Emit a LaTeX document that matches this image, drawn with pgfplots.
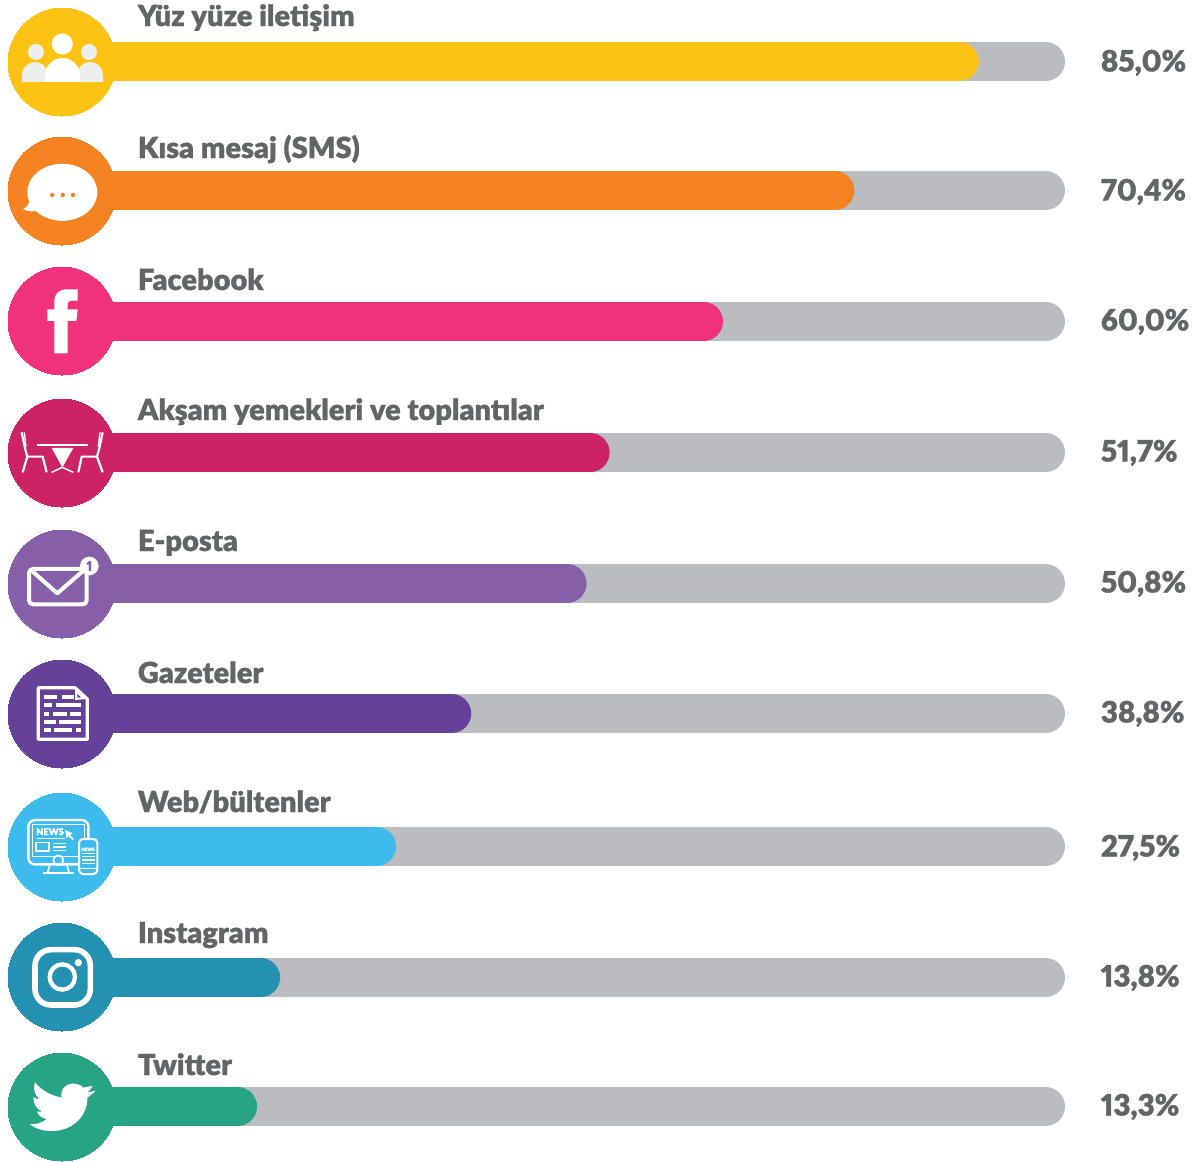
\documentclass[border=0pt]{standalone}
\usepackage{pgfplots}
\pgfplotsset{compat=1.18}
\usepackage{fontspec}
\setmainfont{Lato Black}[FakeBold=1,Numbers=Proportional]
\definecolor{cA}{HTML}{FCC314}
\definecolor{cB}{HTML}{F58220}
\definecolor{cC}{HTML}{F0317C}
\definecolor{cD}{HTML}{CC2367}
\definecolor{cE}{HTML}{8560A8}
\definecolor{cF}{HTML}{654199}
\definecolor{cG}{HTML}{3CBBEC}
\definecolor{cH}{HTML}{2490B2}
\definecolor{cI}{HTML}{27A386}
\definecolor{track}{HTML}{BBBCBF}
\definecolor{txt}{HTML}{636466}
\definecolor{soft}{HTML}{EDEEEE}
\newcommand{\rowbar}[3]{%
  \addplot[track,line width=29.25pt,line cap=round,shorten >=14.625pt] coordinates {(0,#1) (100,#1)};
  \addplot[#3,line width=29.25pt,line cap=round,shorten >=14.625pt] coordinates {(0,#1) (#2,#1)};
}
\newcommand{\rowdisc}[2]{%
  \addplot[only marks,color=#2,mark=*,mark size=40.5pt,mark options={solid,fill=#2,draw=#2,line width=0pt}] coordinates {(0,#1)};
}
\newcommand{\rowlab}[4]{%
  \node[anchor=base west,inner sep=0pt,text=txt,font=\fontsize{21.75}{25}\selectfont] at (axis cs:7.54,#1) {#3};
  \node[anchor=base west,inner sep=0pt,text=txt,font=\fontsize{22.1}{25}\selectfont] at (axis cs:103.55,#2) {#4};
}
\begin{document}
\begin{tikzpicture}
\path[use as bounding box] (0,0) rectangle (895.5pt,870.75pt);
\begin{axis}[at={(0,0)},anchor=south west,scale only axis,width=895.5pt,height=870.75pt,
  xmin=-6.1815,xmax=112.861,ymin=0,ymax=1161,y dir=reverse,hide axis,clip=false]
% bar ends as drawn in the picture, on a 0--100 track
\rowbar{61.5}{91.4}{cA}
\rowbar{190.5}{79.0}{cB}
\rowbar{321.5}{65.9}{cC}
\rowbar{452.5}{54.6}{cD}
\rowbar{583.5}{52.3}{cE}
\rowbar{713.5}{40.8}{cF}
\rowbar{846.5}{33.3}{cG}
\rowbar{977.5}{21.75}{cH}
\rowbar{1106.5}{19.45}{cI}
\rowdisc{62}{cA}
\rowdisc{191}{cB}
\rowdisc{321}{cC}
\rowdisc{453}{cD}
\rowdisc{584}{cE}
\rowdisc{714}{cF}
\rowdisc{847}{cG}
\rowdisc{977}{cH}
\rowdisc{1107}{cI}
\rowlab{26}{71.5}{Yüz yüze iletişim}{85,0\%}
\rowlab{158}{200.5}{Kısa mesaj (SMS)}{70,4\%}
\rowlab{290}{330.5}{Facebook}{60,0\%}
\rowlab{420}{461.5}{Akşam yemekleri ve toplantılar}{51,7\%}
\rowlab{551}{592.5}{E-posta}{50,8\%}
\rowlab{683}{722.5}{Gazeteler}{38,8\%}
\rowlab{812}{856.5}{Web/bültenler}{27,5\%}
\rowlab{943}{986.5}{Instagram}{13,8\%}
\rowlab{1075}{1115.5}{Twitter}{13,3\%}
\end{axis}
% icons (decoration), in pixel coordinates of the picture
\begin{scope}[x=0.75pt,y=-0.75pt,yshift=870.75pt]
% people
\fill[soft] (36,52) circle (8);
\fill[soft] (89,52) circle (8);
\fill[soft] (22,82) -- (22,75) arc[start angle=180,end angle=360,radius=13] -- (48,82) -- cycle;
\fill[soft] (103,82) -- (103,75) arc[start angle=0,end angle=-180,radius=13] -- (77,82) -- cycle;
\fill[white] (62.3,44) circle (10.5);
\fill[white] (45,82) -- (45,75.5) arc[start angle=180,end angle=360,radius=17.5] -- (80,82) -- cycle;
% speech bubble
\fill[white] (62.3,192.3) ellipse[x radius=35,y radius=28.5];
\fill[white] (29,199) .. controls (30,204) and (27,207) .. (23,209) .. controls (28,212) and (34,212) .. (39,210) -- cycle;
\fill[cB] (52.3,195) circle (2.2) (62.7,195) circle (2.2) (73,195) circle (2.2);
% f
\begin{scope}[shift={(0,260)},scale=1/3]
\fill[white] (163,280) -- (163,183) -- (142,183) -- (142,148) -- (163,148) -- (163,125) .. controls (163,100) and (178,88) .. (200,88) -- (233,88) -- (233,122) -- (215,122) .. controls (207,122) and (203,126) .. (203,133) -- (203,148) -- (233,148) -- (229,183) -- (203,183) -- (203,280) -- cycle;
\end{scope}
% dinner table
\begin{scope}[shift={(0,260)},scale=1/3,draw=white,line width=1.6pt,line join=round]
\draw (110,556) -- (265,556);
\fill[white] (155,564) -- (220,564) -- (187,622) -- cycle;
\draw[line width=1.1pt] (155,637) -- (187,622) -- (220,637);
\draw (65,517) -- (75,565) -- (82,590) -- (68,637);
\draw[line width=1pt] (73,517) -- (78,560);
\draw (82,590) -- (128,590) -- (140,637);
\draw (308,517) -- (298,565) -- (291,590) -- (308,637);
\draw[line width=1pt] (300,517) -- (295,560);
\draw (291,590) -- (245,590) -- (235,637);
\end{scope}
% envelope
\begin{scope}[shift={(0,520)},scale=1/3,line join=round]
\draw[white,line width=3pt,rounded corners=3pt] (87,147) rectangle (260,253);
\draw[white,line width=3pt] (95,152) -- (172,220) -- (250,152);
\fill[white] (268,138) circle (28);
\node[text=cE,inner sep=0pt,font=\fontsize{10}{10}\selectfont] at (268,138) {1};
\end{scope}
% newspaper
\begin{scope}[shift={(0,520)},scale=1/3,line join=round]
\draw[white,line width=2.4pt] (115,503) -- (225,503) -- (262,537) -- (262,658) -- (115,658) -- cycle;
\fill[white] (225,503) -- (262,537) -- (225,540) -- cycle;
\fill[cF] (232,522) -- (243,532) -- (232,533) -- cycle;
\foreach \y/\a/\b in {530/132/172,530/187/222,555/132/157,555/168/243,581/132/147,581/160/200,581/210/243,605/132/167,605/177/243,630/132/152,630/162/215,630/228/243}
  \fill[white] (\a,\y-6) rectangle (\b,\y+6);
\end{scope}
% web
\begin{scope}[shift={(0,785)},scale=1/3,line join=round]
\draw[white,line width=1.8pt,rounded corners=5pt] (85,105) rectangle (265,238);
\draw[white,line width=1.2pt] (97,118) rectangle (253,215);
\node[text=white,inner sep=0pt,font=\fontsize{7}{8}\selectfont] at (150,140) {NEWS};
\draw[white,line width=1.2pt] (110,160) -- (195,160);
\draw[white,line width=1.2pt] (108,172) rectangle (147,198);
\foreach \y in {175,186,197} \draw[white,line width=1.2pt] (160,\y) -- (197,\y);
\fill[white] (195,135) -- (218,145) -- (210,150) -- (222,162) -- (217,165) -- (205,153) -- (200,160) -- cycle;
\draw[white,line width=1.2pt] (175,226) circle (15);
\draw[white,line width=1.2pt] (150,238) -- (143,262) (200,238) -- (207,262);
\draw[white,line width=2pt] (128,264) -- (222,264);
\fill[cG,draw=white,line width=1.5pt,rounded corners=3pt] (237,162) rectangle (292,267);
\node[text=white,inner sep=0pt,font=\fontsize{3.4}{4}\selectfont] at (264,193) {NEWS};
\foreach \y in {205,215,225,235} \draw[white,line width=1pt] (245,\y) -- (285,\y);
\draw[white,line width=1pt] (237,250) -- (292,250);
\end{scope}
% instagram
\begin{scope}[shift={(0,915)},scale=1/3]
\draw[white,line width=4.2pt,rounded corners=12pt] (105,104) rectangle (271,270);
\draw[white,line width=3.2pt] (187,186) circle (38);
\fill[white] (235,143) circle (11);
\end{scope}
% twitter
\begin{scope}[shift={(0,915)},scale=1/3]
\fill[white] (88,627) .. controls (102,630) and (125,625) .. (140,612)
 .. controls (125,610) and (115,600) .. (111,590) .. controls (116,590) and (122,590) .. (127,589)
 .. controls (110,583) and (100,567) .. (100,547) .. controls (106,551) and (112,552) .. (118,552)
 .. controls (104,540) and (98,520) .. (105,502) .. controls (125,527) and (155,543) .. (185,547)
 .. controls (178,520) and (205,500) .. (230,507) .. controls (240,508) and (246,513) .. (250,518)
 .. controls (260,516) and (270,513) .. (278,513) .. controls (274,520) and (268,527) .. (262,532)
 .. controls (270,531) and (279,529) .. (287,527) .. controls (280,535) and (270,542) .. (262,548)
 .. controls (264,595) and (225,650) .. (150,648) .. controls (128,648) and (105,640) .. (88,627) -- cycle;
\end{scope}
\end{scope}
\end{tikzpicture}
\end{document}
